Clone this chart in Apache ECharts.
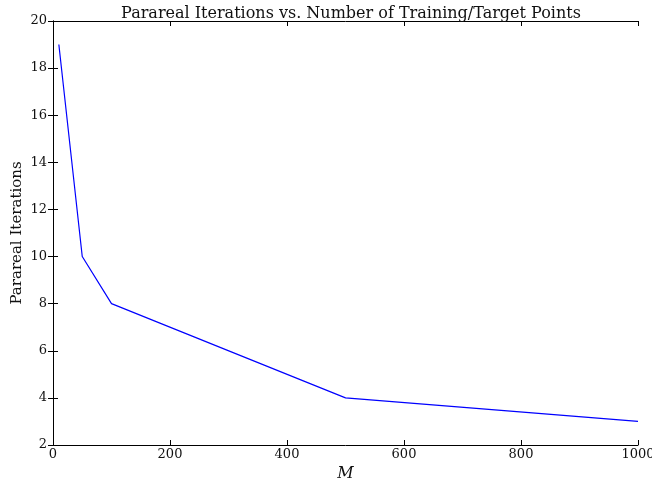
<!DOCTYPE html>
<html>
<head>
<meta charset="utf-8">
<script src="https://cdn.jsdelivr.net/npm/echarts@6/dist/echarts.min.js"></script>
<style>
  html, body { margin: 0; padding: 0; background: #fff; }
  #chart { width: 652px; height: 484px; }
</style>
</head>
<body>
<div id="chart"></div>
<script>
// training/target points M
const mValues = [10, 50, 100, 500, 1000];
// parareal iterations
const iterations = [19, 10, 8, 4, 3];

const font = 'DejaVu Serif';
const chart = echarts.init(document.getElementById('chart'));

const frameAxis = { show: true, lineStyle: { color: '#000', width: 1 } };
const innerTick = { show: true, inside: true, length: 5, lineStyle: { color: '#000' } };

const option = {
  animation: false,
  title: {
    text: 'Parareal Iterations vs. Number of Training/Target Points',
    left: 346, top: 1, textAlign: 'center',
    textStyle: { fontFamily: font, fontSize: 16, fontWeight: 'normal', color: '#111' },
  },
  grid: { left: 53, right: 14, top: 21, bottom: 39, containLabel: false, outerBoundsMode: 'none' },
  xAxis: [
    {
      type: 'value', min: 0, max: 1000, interval: 200,
      name: 'M', nameLocation: 'middle', nameGap: 19,
      nameTextStyle: { fontFamily: font, fontSize: 16, fontStyle: 'italic', color: '#111' },
      axisLine: frameAxis, axisTick: innerTick,
      axisLabel: { fontFamily: font, fontSize: 13, color: '#111', margin: 3, formatter: v => String(v) },
      splitLine: { show: false },
    },
    {
      type: 'value', position: 'top', min: 0, max: 1000, interval: 200,
      axisLine: frameAxis, axisTick: innerTick, axisLabel: { show: false },
      splitLine: { show: false },
    },
  ],
  yAxis: [
    {
      type: 'value', min: 2, max: 20, interval: 2,
      name: 'Parareal Iterations', nameLocation: 'middle', nameGap: 28, nameMoveOverlap: false,
      nameTextStyle: { fontFamily: font, fontSize: 15, color: '#111' },
      axisLine: frameAxis, axisTick: innerTick,
      axisLabel: { fontFamily: font, fontSize: 13, color: '#111', margin: 6 },
      splitLine: { show: false },
    },
    {
      type: 'value', position: 'right', min: 2, max: 20, interval: 2,
      axisLine: frameAxis, axisTick: innerTick, axisLabel: { show: false },
      splitLine: { show: false },
    },
  ],
  series: [
    {
      type: 'line',
      data: mValues.map((m, i) => [m, iterations[i]]),
      showSymbol: false,
      lineStyle: { color: '#0000ff', width: 1.2 },
    },
  ],
};
chart.setOption(option);
</script>
</body>
</html>
